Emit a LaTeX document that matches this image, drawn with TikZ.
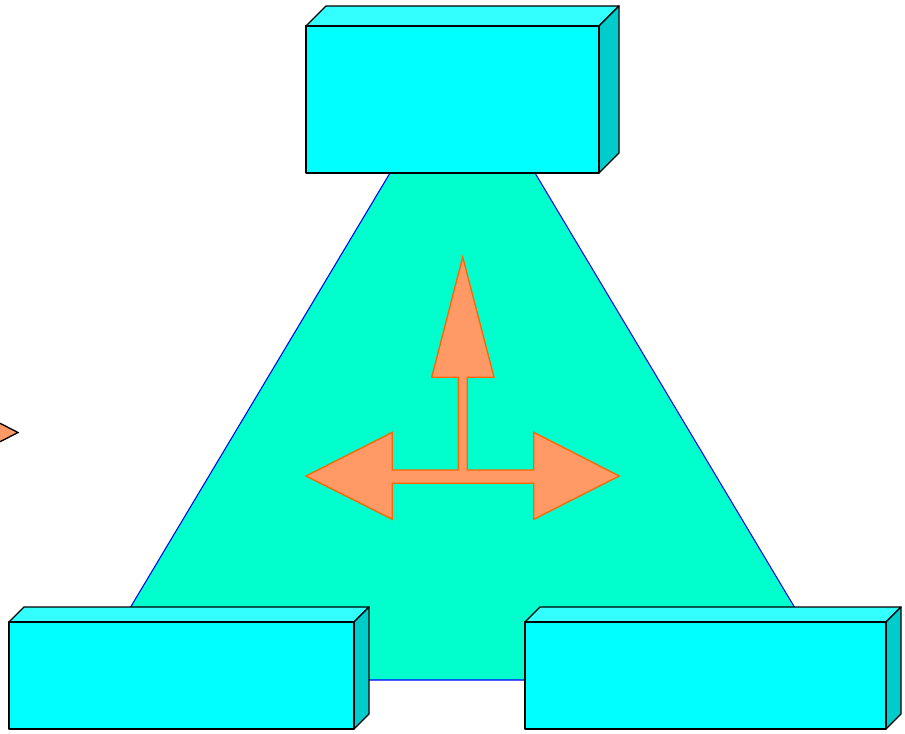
\documentclass[tikz,border=0pt]{standalone}
\usetikzlibrary{calc}
\definecolor{boxfront}{HTML}{00FFFF}
\definecolor{boxtop}{HTML}{33FFFF}
\definecolor{boxside}{HTML}{00CCCC}
\definecolor{trapfill}{HTML}{00FFCC}
\definecolor{arrfill}{HTML}{FF9966}
\definecolor{arrline}{HTML}{FF6600}
\tikzset{
  boxface/.style={draw=black,line width=1pt,line join=round},
  trap/.style={fill=trapfill,draw=blue,line width=0.8pt},
  bigarrow/.style={fill=arrfill,draw=arrline,line width=1pt,line join=miter},
  sidearrow/.style={fill=arrfill,draw=black,line width=1pt}
}
% #1,#2 = front top-left; #3,#4 = front bottom-right; #5 = depth
\newcommand{\drawcuboid}[5]{%
  \draw[boxface,fill=boxtop] (#1,#2) -- ++(#5,-#5) -- (#3+#5,#2-#5) -- (#3,#2) -- cycle;
  \draw[boxface,fill=boxside] (#3,#2) -- (#3+#5,#2-#5) -- (#3+#5,#4-#5) -- (#3,#4) -- cycle;
  \draw[boxface,fill=boxfront] (#1,#2) rectangle (#3,#4);
}
\begin{document}
\begin{tikzpicture}[x=0.75pt,y=-0.75pt]
\useasboundingbox (0,0) rectangle (905,733);
\begin{scope}
\clip (0,0) rectangle (905,733);
% trapezoid
\draw[trap] (390,173) -- (535,173) -- (838,680) -- (87,680) -- cycle;
% boxes
\drawcuboid{306}{26}{599}{173}{20}
\drawcuboid{9}{622}{354}{729}{15}
\drawcuboid{525}{622}{886}{729}{15}
% partial arrow at left edge
\draw[sidearrow] (-20,413) -- (18,432.5) -- (-20,452) -- cycle;
% T-shaped arrows
\draw[bigarrow] (306,476) -- (392.3,432.3) -- (392.3,470) -- (458.3,470)
  -- (458.3,377.3) -- (431.7,377.3) -- (462.7,257) -- (494,377.3)
  -- (467.3,377.3) -- (467.3,470) -- (533.7,470) -- (533.7,432.3)
  -- (619.3,476) -- (533.7,519.3) -- (533.7,483.3) -- (392.3,483.3)
  -- (392.3,519.3) -- cycle;
\end{scope}
\end{tikzpicture}
\end{document}
